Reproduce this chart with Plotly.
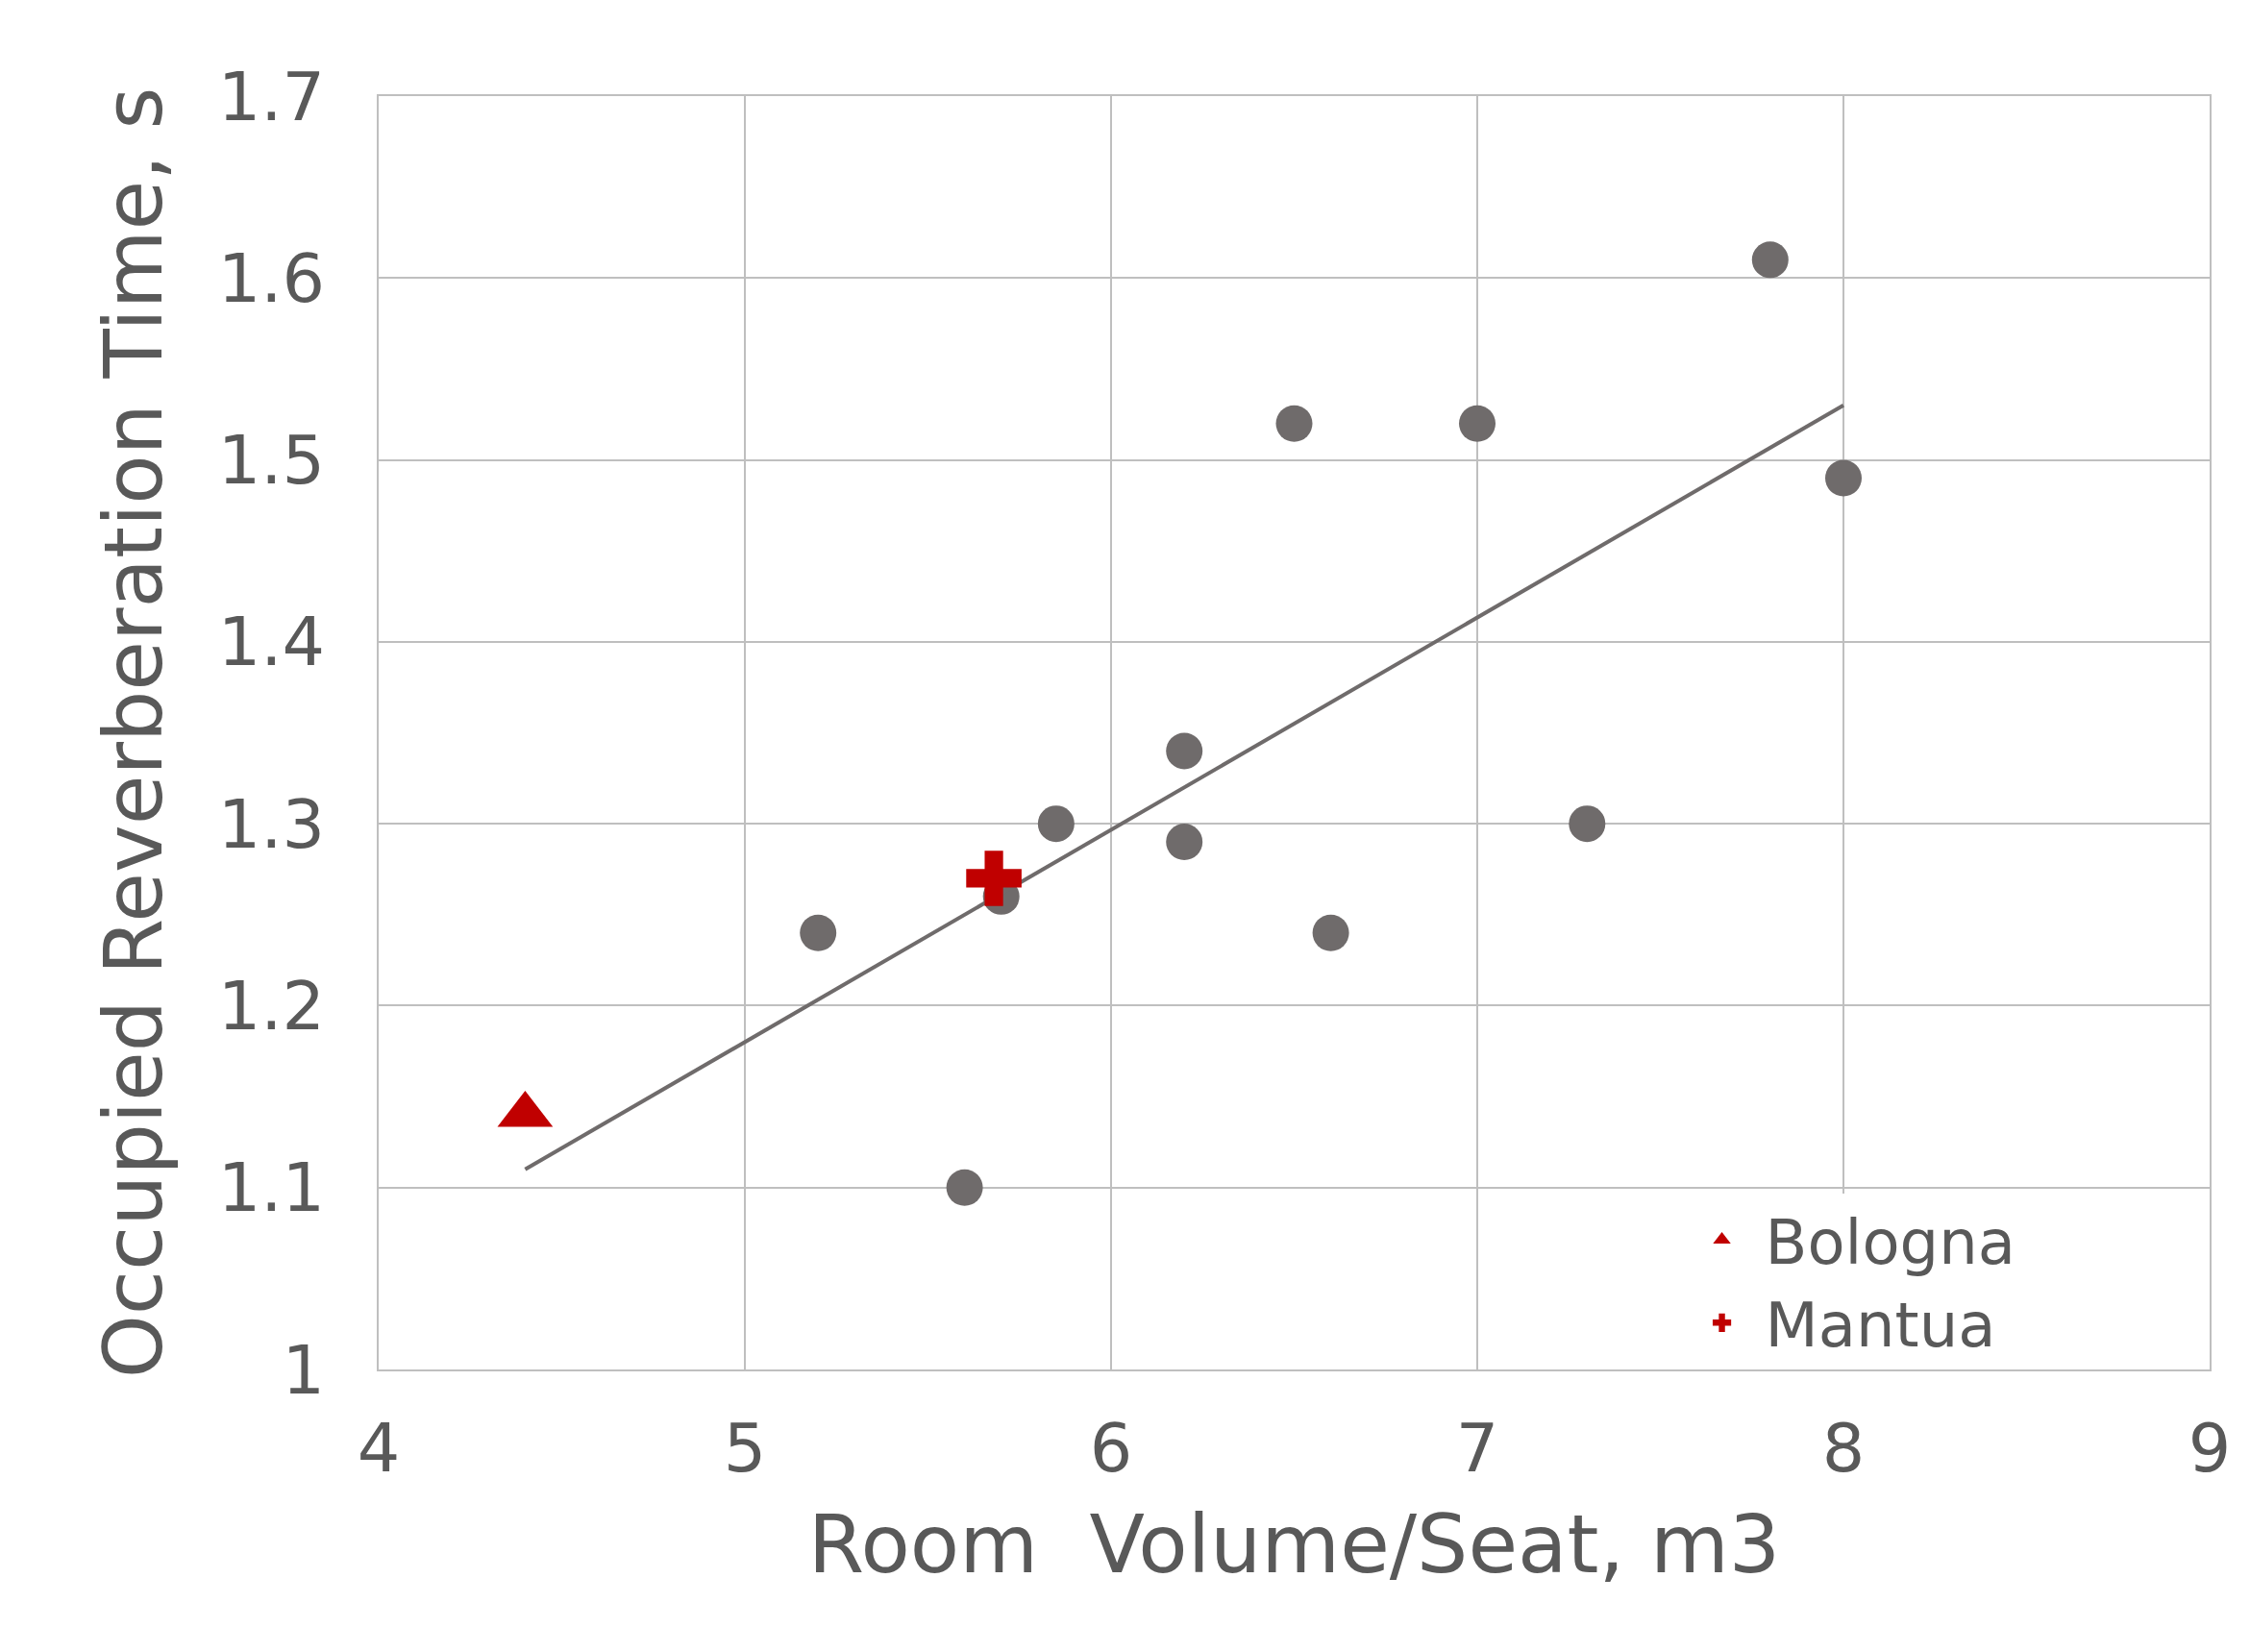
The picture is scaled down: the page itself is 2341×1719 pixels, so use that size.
import plotly.graph_objects as go

# room volume per seat (m3) and occupied reverberation time (s)
halls_x = [5.2, 5.6, 5.7, 5.85, 6.2, 6.2, 6.5, 6.6, 7.0, 7.3, 7.8, 8.0]
halls_y = [1.24, 1.10, 1.26, 1.30, 1.34, 1.29, 1.52, 1.24, 1.52, 1.30, 1.61, 1.49]
bologna_x = [4.4]
bologna_y = [1.14]
mantua_x = [5.68]
mantua_y = [1.27]
trend_x = [4.4, 8.0]
trend_y = [1.11, 1.53]

grey = "#6f6b6b"
red = "#c00000"
font = "DejaVu Sans"

fig = go.Figure()
fig.add_trace(go.Scatter(x=halls_x, y=halls_y, mode="markers", showlegend=False,
                         marker=dict(color=grey, size=38)))
fig.add_trace(go.Scatter(x=trend_x, y=trend_y, mode="lines", showlegend=False,
                         line=dict(color=grey, width=4)))
fig.add_trace(go.Scatter(x=bologna_x, y=bologna_y, mode="markers", name="Bologna",
                         marker=dict(color=red, size=50, symbol="triangle-up")))
fig.add_trace(go.Scatter(x=mantua_x, y=mantua_y, mode="markers", name="Mantua",
                         marker=dict(color=red, size=48, symbol="cross")))

fig.update_layout(
    width=2341, height=1719,
    paper_bgcolor="white", plot_bgcolor="white",
    margin=dict(l=386, r=50, t=92, b=302),
    font=dict(family=font, size=70, color="#595959"),
    legend=dict(x=0.71, y=0.0, xanchor="left", yanchor="bottom",
                bgcolor="white", font=dict(size=64, color="#595959"),
                itemsizing="trace", itemwidth=80, tracegroupgap=20,
                borderwidth=0),
    xaxis=dict(range=[4, 9], dtick=1, showgrid=True, gridcolor="#bfbfbf", gridwidth=2,
               zeroline=False, showline=True, linecolor="#bfbfbf", linewidth=2, mirror=True,
               ticks="", ticklabelstandoff=20,
               title=dict(text="Room  Volume/Seat, m3", standoff=30)),
    yaxis=dict(range=[1, 1.7], dtick=0.1, showgrid=True, gridcolor="#bfbfbf", gridwidth=2,
               zeroline=False, showline=True, linecolor="#bfbfbf", linewidth=2, mirror=True,
               ticks="", ticklabelstandoff=40,
               tickvals=[1, 1.1, 1.2, 1.3, 1.4, 1.5, 1.6, 1.7],
               ticktext=["1", "1.1", "1.2", "1.3", "1.4", "1.5", "1.6", "1.7"],
               title=dict(text="Occupied Reverberation Time, s", standoff=30)),
)

fig.write_html("out.html")
